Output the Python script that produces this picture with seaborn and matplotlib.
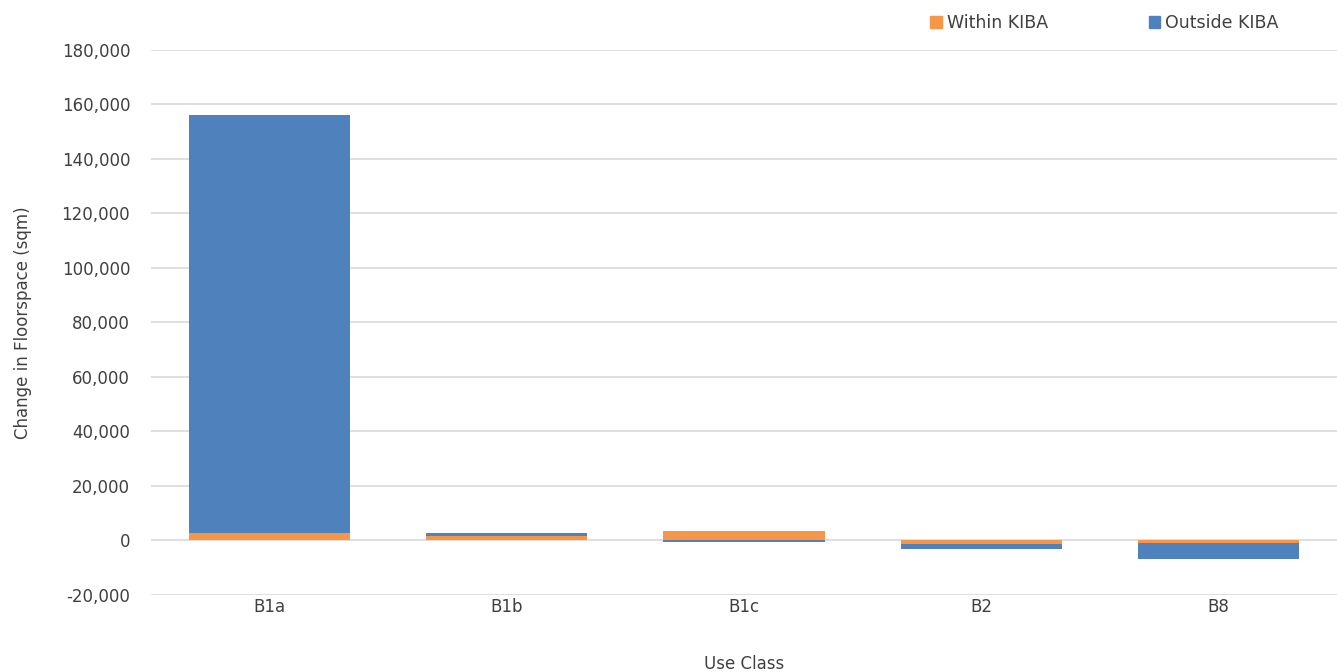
import numpy as np
import pandas as pd
import seaborn as sns
import matplotlib.pyplot as plt
from matplotlib.patches import Patch
from matplotlib.ticker import FuncFormatter

sns.set_style(style='white')
plt.rcParams['font.family'] = ['DejaVu Sans']

use_class = ['B1a', 'B1b', 'B1c', 'B2', 'B8']
within_kiba = [2700, 1800, 3600, -1300, -900]
outside_kiba = [153300, 900, -700, -2000, -6000]

orange = '#F79646'
blue = '#4F81BD'

df = pd.DataFrame({'use_class': use_class,
                   'within': within_kiba,
                   'outside': outside_kiba})
# stack outside on top of within only when both go the same way
df['base'] = np.where(np.sign(df['within']) == np.sign(df['outside']), df['within'], 0)

fig = plt.figure(figsize=(13.37, 6.72), dpi=100)
ax = fig.add_axes([0.1130, 0.1146, 0.887, 0.811])

sns.barplot(data=df, x='use_class', y='within', color=orange, width=0.68,
            saturation=1, linewidth=0, ax=ax)
sns.barplot(data=df, x='use_class', y='outside', color=blue, width=0.68,
            saturation=1, linewidth=0, bottom=df['base'], ax=ax)

ax.set_ylim(-20000, 180000)
ax.set_yticks(np.arange(-20000, 180001, 20000))
ax.yaxis.set_major_formatter(FuncFormatter(lambda v, p: '{:,.0f}'.format(v)))
ax.grid(axis='y', color='#D9D9D9', linewidth=1.2)
ax.set_axisbelow(True)
for s in ax.spines.values():
    s.set_visible(False)
ax.tick_params(axis='both', length=0, labelsize=12, colors='#404040')
ax.tick_params(axis='x', pad=2)
ax.tick_params(axis='y', pad=15)
ax.set_xlabel('Use Class', fontsize=12, color='#404040', labelpad=28)
ax.set_ylabel('Change in Floorspace (sqm)', fontsize=12, color='#404040', labelpad=21)

handles = [Patch(color=orange, label='Within KIBA'),
           Patch(color=blue, label='Outside KIBA')]
leg = fig.legend(handles=handles, loc='center right', bbox_to_anchor=(0.968, 0.966),
                 ncol=2, frameon=False, fontsize=12.5, handlelength=0.65,
                 handleheight=0.65, handletextpad=0.3, columnspacing=5.8)
for t in leg.get_texts():
    t.set_color('#404040')

fig.savefig('out.png', dpi=100)
